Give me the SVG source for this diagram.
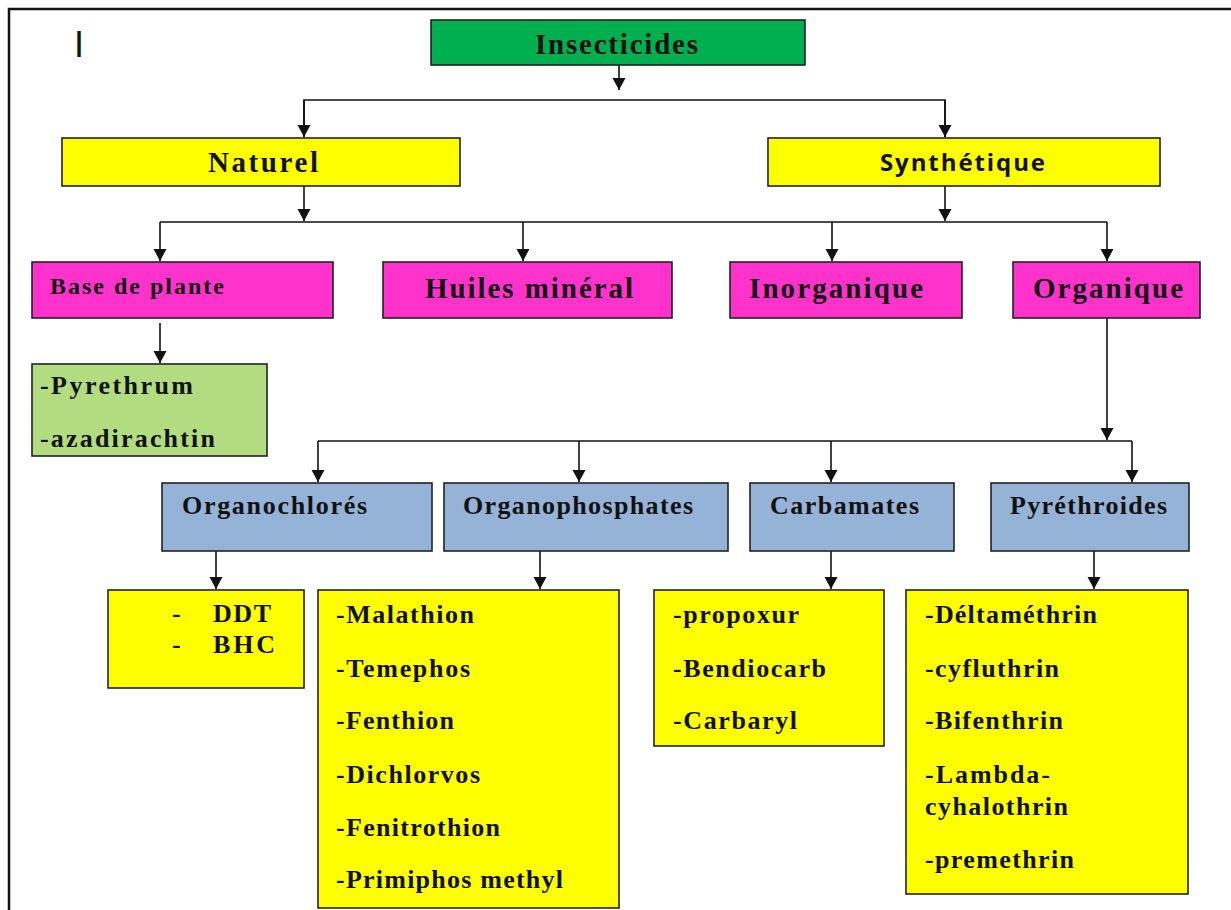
<svg xmlns="http://www.w3.org/2000/svg" width="1231" height="910" viewBox="0 0 1231 910">
<style>
.box{stroke:#222;stroke-width:1.6}
.g{fill:#00b050}.y{fill:#ffff00}.m{fill:#ff33cc}.lg{fill:#b1dc80}.b{fill:#95b3d7}
text{font-family:"Liberation Serif","Times New Roman",serif;font-weight:bold;fill:#111}
.t25{font-size:26px}.t28{font-size:29px}.t23{font-size:24px}
.sans{font-family:"Open Sans","Liberation Sans",sans-serif;font-size:24px}
.c{stroke:#111;stroke-width:1.6;fill:none}
</style>
<defs>
<marker id="a" markerWidth="13" markerHeight="14" refX="12" refY="7" orient="auto" markerUnits="userSpaceOnUse" viewBox="0 0 13 14">
<path d="M0,0.5 L12,7 L0,13.5 Z" fill="#111"/>
</marker>
</defs>
<rect width="1231" height="910" fill="#fff"/>
<path d="M9,910 V9 H1231" stroke="#111" stroke-width="2.5" fill="none"/>
<text x="74" y="57" style="font-family:'Liberation Sans',sans-serif;font-weight:normal;font-size:36px">I</text>

<g id="connectors">
<path class="c" d="M619,65 V90" marker-end="url(#a)"/>
<path class="c" d="M304,137 V100 H945 V137"/>
<path class="c" d="M304,100 V137" marker-end="url(#a)"/>
<path class="c" d="M945,100 V137" marker-end="url(#a)"/>
<path class="c" d="M304,186 V221" marker-end="url(#a)"/>
<path class="c" d="M945,186 V221" marker-end="url(#a)"/>
<path class="c" d="M160,222 H1107"/>
<path class="c" d="M160,222 V261" marker-end="url(#a)"/>
<path class="c" d="M523,222 V261" marker-end="url(#a)"/>
<path class="c" d="M832,222 V261" marker-end="url(#a)"/>
<path class="c" d="M1107,222 V261" marker-end="url(#a)"/>
<path class="c" d="M160,323 V363" marker-end="url(#a)"/>
<path class="c" d="M1107,318 V440" marker-end="url(#a)"/>
<path class="c" d="M318,441 H1132"/>
<path class="c" d="M318,441 V482" marker-end="url(#a)"/>
<path class="c" d="M579,441 V482" marker-end="url(#a)"/>
<path class="c" d="M831,441 V482" marker-end="url(#a)"/>
<path class="c" d="M1132,441 V482" marker-end="url(#a)"/>
<path class="c" d="M216,551 V589" marker-end="url(#a)"/>
<path class="c" d="M540,551 V589" marker-end="url(#a)"/>
<path class="c" d="M831,551 V589" marker-end="url(#a)"/>
<path class="c" d="M1094,551 V589" marker-end="url(#a)"/>
</g>

<g id="insecticides"><rect class="box g" x="431" y="20" width="374" height="45"/><text class="t28" x="535" y="54" textLength="163" lengthAdjust="spacing">Insecticides</text></g>
<g id="naturel"><rect class="box y" x="62" y="138" width="398" height="48"/><text class="t28" x="208" y="172" textLength="110" lengthAdjust="spacing">Naturel</text></g>
<g id="synthetique"><rect class="box y" x="768" y="138" width="392" height="48"/><text class="sans" x="880" y="171" textLength="165" lengthAdjust="spacing">Synthétique</text></g>

<g id="base-plante"><rect class="box m" x="32" y="262" width="301" height="56"/><text class="t23" x="50" y="294" textLength="174" lengthAdjust="spacing">Base de plante</text></g>
<g id="huiles"><rect class="box m" x="383" y="262" width="289" height="56"/><text class="t28" x="425" y="298" textLength="208" lengthAdjust="spacing">Huiles minéral</text></g>
<g id="inorganique"><rect class="box m" x="730" y="262" width="232" height="56"/><text class="t28" x="749" y="298" textLength="174" lengthAdjust="spacing">Inorganique</text></g>
<g id="organique"><rect class="box m" x="1013" y="262" width="187" height="56"/><text class="t28" x="1033" y="298" textLength="150" lengthAdjust="spacing">Organique</text></g>

<g id="naturels-list"><rect class="box lg" x="32" y="364" width="235" height="92"/>
<text class="t25" x="40" y="394" textLength="153" lengthAdjust="spacing">-Pyrethrum</text>
<text class="t25" x="40" y="447" textLength="175" lengthAdjust="spacing">-azadirachtin</text></g>

<g id="organochlores"><rect class="box b" x="162" y="483" width="270" height="68"/><text class="t25" x="182" y="514" textLength="185" lengthAdjust="spacing">Organochlorés</text></g>
<g id="organophosphates"><rect class="box b" x="444" y="483" width="284" height="68"/><text class="t25" x="463" y="514" textLength="230" lengthAdjust="spacing">Organophosphates</text></g>
<g id="carbamates"><rect class="box b" x="750" y="483" width="204" height="68"/><text class="t25" x="770" y="514" textLength="149" lengthAdjust="spacing">Carbamates</text></g>
<g id="pyrethroides"><rect class="box b" x="991" y="483" width="198" height="68"/><text class="t25" x="1010" y="514" textLength="157" lengthAdjust="spacing">Pyréthroides</text></g>

<g id="ddt-list"><rect class="box y" x="108" y="590" width="196" height="98"/>
<text class="t25" x="172" y="622">-</text><text class="t25" x="213" y="622" textLength="58" lengthAdjust="spacing">DDT</text>
<text class="t25" x="172" y="653">-</text><text class="t25" x="213" y="653" textLength="62" lengthAdjust="spacing">BHC</text></g>

<g id="op-list"><rect class="box y" x="318" y="590" width="301" height="318"/>
<text class="t25" x="336" y="623" textLength="138" lengthAdjust="spacing">-Malathion</text>
<text class="t25" x="336" y="677" textLength="134" lengthAdjust="spacing">-Temephos</text>
<text class="t25" x="336" y="729" textLength="118" lengthAdjust="spacing">-Fenthion</text>
<text class="t25" x="336" y="783" textLength="144" lengthAdjust="spacing">-Dichlorvos</text>
<text class="t25" x="336" y="836" textLength="164" lengthAdjust="spacing">-Fenitrothion</text>
<text class="t25" x="336" y="888" textLength="227" lengthAdjust="spacing">-Primiphos methyl</text></g>

<g id="carb-list"><rect class="box y" x="654" y="590" width="230" height="156"/>
<text class="t25" x="673" y="623" textLength="126" lengthAdjust="spacing">-propoxur</text>
<text class="t25" x="673" y="677" textLength="153" lengthAdjust="spacing">-Bendiocarb</text>
<text class="t25" x="673" y="729" textLength="124" lengthAdjust="spacing">-Carbaryl</text></g>

<g id="pyr-list"><rect class="box y" x="906" y="590" width="282" height="304"/>
<text class="t25" x="925" y="623" textLength="172" lengthAdjust="spacing">-Déltaméthrin</text>
<text class="t25" x="925" y="677" textLength="134" lengthAdjust="spacing">-cyfluthrin</text>
<text class="t25" x="925" y="729" textLength="138" lengthAdjust="spacing">-Bifenthrin</text>
<text class="t25" x="925" y="783" textLength="125" lengthAdjust="spacing">-Lambda-</text>
<text class="t25" x="925" y="815" textLength="143" lengthAdjust="spacing">cyhalothrin</text>
<text class="t25" x="925" y="868" textLength="149" lengthAdjust="spacing">-premethrin</text></g>
</svg>
